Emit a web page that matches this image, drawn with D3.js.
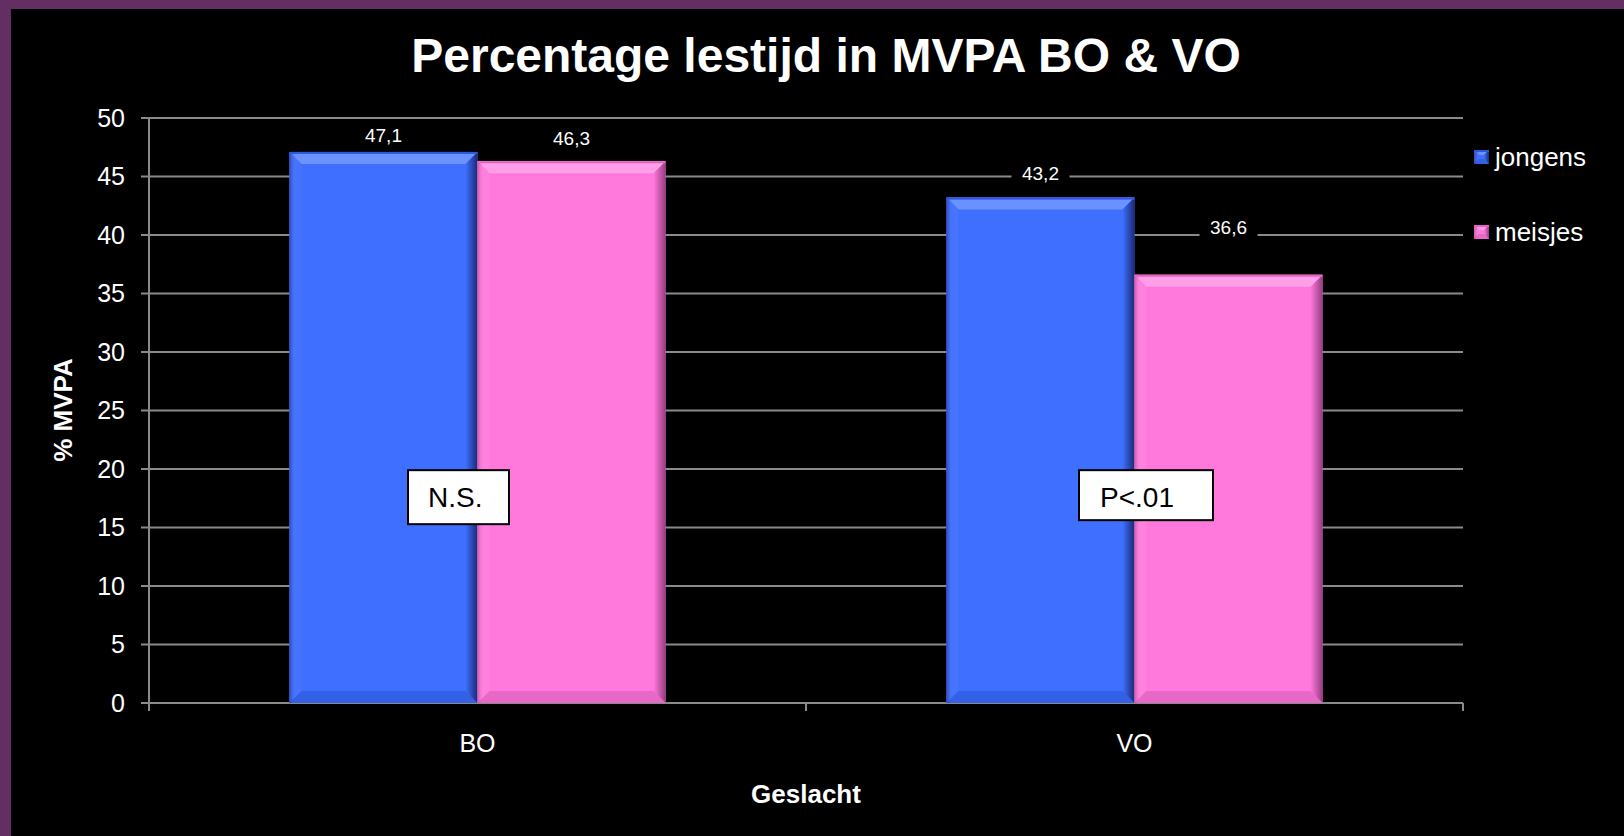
<!DOCTYPE html>
<html>
<head>
<meta charset="utf-8">
<script src="https://cdn.jsdelivr.net/npm/d3@7"></script>
<style>
  html, body { margin: 0; padding: 0; background: #000; }
  svg { display: block; }
  text { font-family: "Liberation Sans", Arial, sans-serif; }
</style>
</head>
<body>
<svg id="chart" width="1624" height="836"></svg>
<script>
// ---- data ----
const categories = ["BO", "VO"];
const seriesNames = ["jongens", "meisjes"];
const jongens = [47.1, 43.2];
const meisjes = [46.3, 36.6];
const valueLabels = [["47,1", "46,3"], ["43,2", "36,6"]];
const yTicks = [0, 5, 10, 15, 20, 25, 30, 35, 40, 45, 50];
const annotationText = ["N.S.", "P<.01"];
const annotationValue = [19.9, 19.9];
const titleText = "Percentage lestijd in MVPA BO & VO";
const yTitle = "% MVPA";
const xTitle = "Geslacht";

// ---- layout ----
const W = 1624, H = 836;
const plot = { left: 149, right: 1463, top: 118, bottom: 703 };
const labelLift = [[10, 16], [18, 41]];
const annoBox = [{ dx: -69.5, w: 101, h: 54, pad: 20 }, { dx: -55.5, w: 134, h: 50, pad: 21 }];

const svg = d3.select("#chart");
const defs = svg.append("defs");

// background + purple frame
svg.append("rect").attr("x", 0).attr("y", 0).attr("width", W).attr("height", H).attr("fill", "#632f62");
svg.append("rect").attr("x", 11).attr("y", 9).attr("width", W - 11).attr("height", H - 9).attr("fill", "#000");

const x = d3.scaleBand().domain(categories).range([plot.left, plot.right]).paddingInner(0).paddingOuter(0);
const xs = d3.scaleBand().domain(seriesNames).range([0, x.bandwidth()]).paddingInner(0).paddingOuter(0.747);
const y = d3.scaleLinear().domain([0, 50]).range([plot.bottom, plot.top]);

const gridColor = "#8a8a8a";

// gridlines
svg.append("g").selectAll("line").data(yTicks).join("line")
  .attr("x1", plot.left - 8).attr("x2", plot.right)
  .attr("y1", d => y(d)).attr("y2", d => y(d))
  .attr("stroke", gridColor).attr("stroke-width", 2);

// y axis line
svg.append("line").attr("x1", plot.left).attr("x2", plot.left)
  .attr("y1", plot.top).attr("y2", plot.bottom + 8)
  .attr("stroke", gridColor).attr("stroke-width", 2);

// x axis ticks (band boundaries)
const xBoundaries = [plot.left, ...categories.map(c => x(c) + x.bandwidth())];
svg.append("g").selectAll("line").data(xBoundaries).join("line")
  .attr("x1", d => d).attr("x2", d => d)
  .attr("y1", plot.bottom).attr("y2", plot.bottom + 8)
  .attr("stroke", gridColor).attr("stroke-width", 2);

// y tick labels
svg.append("g").selectAll("text").data(yTicks).join("text")
  .attr("x", plot.left - 24).attr("y", d => y(d)).attr("dy", "0.35em")
  .attr("text-anchor", "end").attr("fill", "#fff").attr("font-size", 25)
  .text(d => d);

// x tick labels
svg.append("g").selectAll("text").data(categories).join("text")
  .attr("x", d => x(d) + x.bandwidth() / 2).attr("y", 752)
  .attr("text-anchor", "middle").attr("fill", "#fff").attr("font-size", 25)
  .text(d => d);

// gradients for bevel sides
const palettes = {
  jongens: { base: "#3e6fff", top: "#6a93ff", topEdge: "#2c57e6", left: "#4674ff", right1: "#3e6fff", right2: "#1a2a74", bottom: "#3460e6" },
  meisjes: { base: "#ff78dc", top: "#ff9fea", topEdge: "#e860c8", left: "#ff80df", right1: "#ff78dc", right2: "#963d82", bottom: "#e868c8" }
};
Object.entries(palettes).forEach(([k, p]) => {
  const gr = defs.append("linearGradient").attr("id", "right-" + k).attr("x1", 0).attr("x2", 1).attr("y1", 0).attr("y2", 0);
  gr.append("stop").attr("offset", "0%").attr("stop-color", p.right1);
  gr.append("stop").attr("offset", "100%").attr("stop-color", p.right2);
  const gl = defs.append("linearGradient").attr("id", "left-" + k).attr("x1", 0).attr("x2", 1).attr("y1", 0).attr("y2", 0);
  gl.append("stop").attr("offset", "0%").attr("stop-color", p.right2).attr("stop-opacity", 0.55);
  gl.append("stop").attr("offset", "100%").attr("stop-color", p.left).attr("stop-opacity", 0);
});

function bevelBar(g, bx, by, w, h, key, b) {
  const p = palettes[key];
  g.append("rect").attr("x", bx).attr("y", by).attr("width", w).attr("height", h).attr("fill", p.base);
  const poly = pts => pts.map(q => q.join(",")).join(" ");
  g.append("polygon").attr("points", poly([[bx, by], [bx + w, by], [bx + w - b, by + b], [bx + b, by + b]])).attr("fill", p.top);
  g.append("polygon").attr("points", poly([[bx, by], [bx + b, by + b], [bx + b, by + h - b], [bx, by + h]])).attr("fill", p.left);
  g.append("polygon").attr("points", poly([[bx, by + h], [bx + w, by + h], [bx + w - b, by + h - b], [bx + b, by + h - b]])).attr("fill", p.bottom);
  g.append("polygon").attr("points", poly([[bx + w, by], [bx + w, by + h], [bx + w - b, by + h - b], [bx + w - b, by + b]])).attr("fill", "url(#right-" + key + ")");
  g.append("rect").attr("x", bx).attr("y", by).attr("width", Math.min(6, w)).attr("height", h).attr("fill", "url(#left-" + key + ")");
  g.append("rect").attr("x", bx).attr("y", by).attr("width", w).attr("height", 2).attr("fill", p.topEdge);
}

// bars
const barData = [];
categories.forEach((c, i) => {
  barData.push({ cat: c, s: "jongens", v: jongens[i], label: valueLabels[i][0], lift: labelLift[i][0] });
  barData.push({ cat: c, s: "meisjes", v: meisjes[i], label: valueLabels[i][1], lift: labelLift[i][1] });
});
const barsG = svg.append("g");
barData.forEach(d => {
  const bx = x(d.cat) + xs(d.s);
  const by = y(d.v);
  bevelBar(barsG.append("g"), bx, by, xs.bandwidth(), y(0) - by, d.s, 12);
});

// value labels with black background
const lblG = svg.append("g");
barData.forEach(d => {
  const cx = x(d.cat) + xs(d.s) + xs.bandwidth() / 2;
  const base = y(d.v) - d.lift;
  lblG.append("rect").attr("x", cx - 29).attr("y", base - 18).attr("width", 58).attr("height", 24).attr("fill", "#000");
  lblG.append("text").attr("x", cx).attr("y", base).attr("text-anchor", "middle")
    .attr("fill", "#fff").attr("font-size", 19).text(d.label);
});

// annotation boxes
categories.forEach((c, i) => {
  const a = annoBox[i];
  const cx = x(c) + x.bandwidth() / 2;
  const top = y(annotationValue[i]);
  svg.append("rect").attr("x", cx + a.dx).attr("y", top).attr("width", a.w).attr("height", a.h)
    .attr("fill", "#fff").attr("stroke", "#000").attr("stroke-width", 2);
  svg.append("text").attr("x", cx + a.dx + a.pad).attr("y", top + 37)
    .attr("fill", "#000").attr("font-size", 28).text(annotationText[i]);
});

// legend
const legendY = [157, 232];
seriesNames.forEach((s, i) => {
  const g = svg.append("g");
  bevelBar(g, 1474, legendY[i] - 7, 15, 14, s, 5);
  g.append("text").attr("x", 1495).attr("y", legendY[i] + 9).attr("fill", "#fff").attr("font-size", 26).text(s);
});

// titles
svg.append("text").attr("x", 826).attr("y", 72).attr("text-anchor", "middle")
  .attr("fill", "#fff").attr("font-size", 48).attr("font-weight", "bold").text(titleText);
svg.append("text").attr("transform", "translate(72,410) rotate(-90)").attr("text-anchor", "middle")
  .attr("fill", "#fff").attr("font-size", 26).attr("font-weight", "bold").text(yTitle);
svg.append("text").attr("x", (plot.left + plot.right) / 2).attr("y", 803).attr("text-anchor", "middle")
  .attr("fill", "#fff").attr("font-size", 26).attr("font-weight", "bold").text(xTitle);
</script>
</body>
</html>
